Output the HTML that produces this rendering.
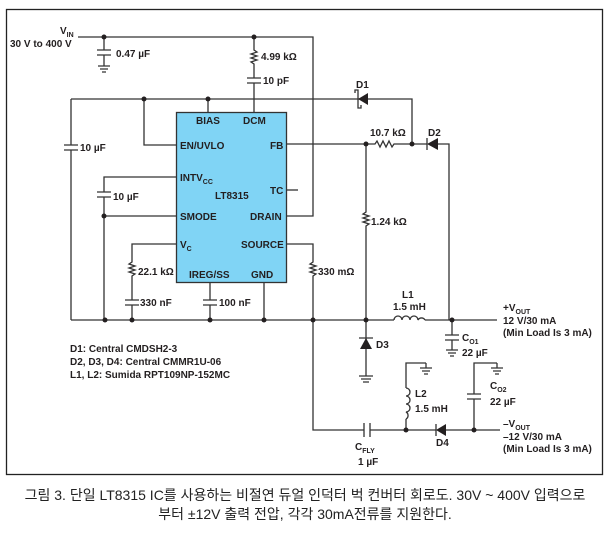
<!DOCTYPE html>
<html><head><meta charset="utf-8"><style>
body{margin:0;background:#fff;width:610px;height:547px;overflow:hidden}
svg text{font-family:"Liberation Sans",sans-serif;font-weight:bold;font-size:10px;fill:#231f20}
.cap{font-family:"Liberation Sans","Noto Sans CJK KR",sans-serif;font-weight:normal;font-size:14px;fill:#222}
</style></head><body>
<svg width="610" height="547" viewBox="0 0 610 547" xmlns="http://www.w3.org/2000/svg">
<rect x="6.5" y="9.5" width="596" height="465" fill="none" stroke="#222" stroke-width="1.3"/>
<g stroke="#333" stroke-width="1.3" fill="none">
<!-- VIN line -->
<path d="M78 37H313V216H287"/>
<path d="M104 37V50M97 50H111M97 55H111M104 55V66M98 66H110M100 69H108M102 72H106"/>
<path d="M254 37V50l3 2-6 2 6 2-6 2 6 2-6 2 3 2V78M247 78H261M247 83H261M254 83V112"/>
<!-- bus y99 -->
<path d="M71 99H412V144"/>
<path d="M71 99V145M64 145H78M64 150H78M71 150V320"/>
<path d="M144 99V145H176"/>
<path d="M208 99V112"/>
<!-- FB -->
<path d="M287 144H375l2-3 3 6 3-6 3 6 3-6 3 6 2-3H427M438 144H449V320"/>
<path d="M366 144V212l-3 2 6 2-6 2 6 2-6 2 6 2-3 2V320"/>
<!-- INTVcc -->
<path d="M176 177H104V192M97 192H111M97 197H111M104 197V320M104 216H176"/>
<path d="M287 190H298"/>
<!-- Vc -->
<path d="M176 244H132V262l-3 2 6 2-6 2 6 2-6 2 6 2-3 2V300M125 300H139M125 305H139M132 305V320"/>
<path d="M210 283V300M203 300H217M203 305H217M210 305V320"/>
<path d="M264 283V320"/>
<!-- SOURCE -->
<path d="M287 244H313V262l-3 2 6 2-6 2 6 2-6 2 6 2-3 2V430H364M370 430H436M446 430H500"/>
<path d="M364 423V437M370 423V437"/>
<!-- bottom bus -->
<path d="M71 320H394M425 320H497"/>
<path d="M394 320a4 4 0 0 1 8 0a4 4 0 0 1 8 0a4 4 0 0 1 8 0a4 4 0 0 1 7 0"/>
<!-- D3 -->
<path d="M366 320V376M359 376H373M361 379H371M363 382H369M359 338H373"/>
<!-- Co1 -->
<path d="M452 320V335M445 335H459M445 340H459M452 340V350M446 350H458M448 353H456M450 356H454"/>
<!-- L2 -->
<path d="M426 363H406V388"/>
<path d="M406 388a4 4 0 0 1 0 8a4 4 0 0 1 0 8a4 4 0 0 1 0 8a4 4 0 0 1 0 7"/>
<path d="M406 419V430"/>
<path d="M426 363V368M420 368H432M422 371H430M424 374H428"/>
<!-- Co2 -->
<path d="M497 363H474V394M467 394H481M467 399H481M474 399V430"/>
<path d="M497 363V368M491 368H503M493 371H501M495 374H499"/>
<!-- D4 -->
<path d="M436 424V436"/>
<!-- D2 -->
<path d="M427 138V150"/>
<!-- D1 -->
<path d="M355 93v-3h3v18h3v-3"/>
</g>
<g fill="#231f20">
<polygon points="436,430 446,424 446,436"/>
<polygon points="427,144 438,138 438,150"/>
<polygon points="358,99 368,93 368,105"/>
<polygon points="366,338 360,349 372,349"/>
<circle cx="104" cy="37" r="2.5"/><circle cx="254" cy="37" r="2.5"/>
<circle cx="144" cy="99" r="2.5"/><circle cx="208" cy="99" r="2.5"/>
<circle cx="366" cy="144" r="2.5"/><circle cx="412" cy="144" r="2.5"/>
<circle cx="104" cy="216" r="2.5"/>
<circle cx="105" cy="320" r="2.5"/><circle cx="132" cy="320" r="2.5"/><circle cx="210" cy="320" r="2.5"/><circle cx="264" cy="320" r="2.5"/><circle cx="313" cy="320" r="2.5"/><circle cx="366" cy="320" r="2.5"/><circle cx="452" cy="320" r="2.5"/>
<circle cx="406" cy="430" r="2.5"/><circle cx="474" cy="430" r="2.5"/>
</g>
<rect x="176.5" y="112.5" width="110" height="170" fill="#80d4f5" stroke="#333" stroke-width="1.3"/>
<text x="196" y="124">BIAS</text><text x="243" y="124">DCM</text>
<text x="180" y="149">EN/UVLO</text><text x="270" y="149">FB</text>
<text x="180" y="181">INTV<tspan font-size="7" dy="3">CC</tspan></text>
<text x="215" y="199">LT8315</text><text x="270" y="194">TC</text>
<text x="180" y="220">SMODE</text><text x="250" y="220">DRAIN</text>
<text x="180" y="248">V<tspan font-size="7" dy="3">C</tspan></text><text x="241" y="248">SOURCE</text>
<text x="189" y="278">IREG/SS</text><text x="251" y="278">GND</text>
<text x="60" y="34">V<tspan font-size="7" dy="3">IN</tspan></text>
<text x="10" y="47">30 V to 400 V</text>
<text x="116" y="57">0.47 µF</text>
<text x="261" y="60">4.99 kΩ</text>
<text x="263" y="84">10 pF</text>
<text x="80" y="151">10 µF</text>
<text x="113" y="200">10 µF</text>
<text x="356" y="88">D1</text>
<text x="370" y="136">10.7 kΩ</text>
<text x="428" y="136">D2</text>
<text x="371" y="225">1.24 kΩ</text>
<text x="318" y="275">330 mΩ</text>
<text x="138" y="275">22.1 kΩ</text>
<text x="140" y="306">330 nF</text>
<text x="219" y="306">100 nF</text>
<text x="402" y="298">L1</text>
<text x="393" y="310">1.5 mH</text>
<text x="503" y="311">+V<tspan font-size="7" dy="3">OUT</tspan></text>
<text x="503" y="324">12 V/30 mA</text>
<text x="503" y="336">(Min Load Is 3 mA)</text>
<text x="376" y="348">D3</text>
<text x="462" y="341">C<tspan font-size="7" dy="3">O1</tspan></text>
<text x="462" y="356">22 µF</text>
<text x="70" y="352">D1: Central CMDSH2-3</text>
<text x="70" y="365">D2, D3, D4: Central CMMR1U-06</text>
<text x="70" y="378">L1, L2: Sumida RPT109NP-152MC</text>
<text x="415" y="397">L2</text>
<text x="415" y="412">1.5 mH</text>
<text x="490" y="389">C<tspan font-size="7" dy="3">O2</tspan></text>
<text x="490" y="405">22 µF</text>
<text x="503" y="427">–V<tspan font-size="7" dy="3">OUT</tspan></text>
<text x="503" y="440">–12 V/30 mA</text>
<text x="503" y="452">(Min Load Is 3 mA)</text>
<text x="436" y="446">D4</text>
<text x="355" y="450">C<tspan font-size="7" dy="3">FLY</tspan></text>
<text x="358" y="465">1 µF</text>
<text class="cap" x="305" y="500" text-anchor="middle">그림 3. 단일 LT8315 IC를 사용하는 비절연 듀얼 인덕터 벅 컨버터 회로도. 30V ~ 400V 입력으로</text>
<text class="cap" x="305" y="519" text-anchor="middle">부터 ±12V 출력 전압, 각각 30mA전류를 지원한다.</text>
</svg>
</body></html>
